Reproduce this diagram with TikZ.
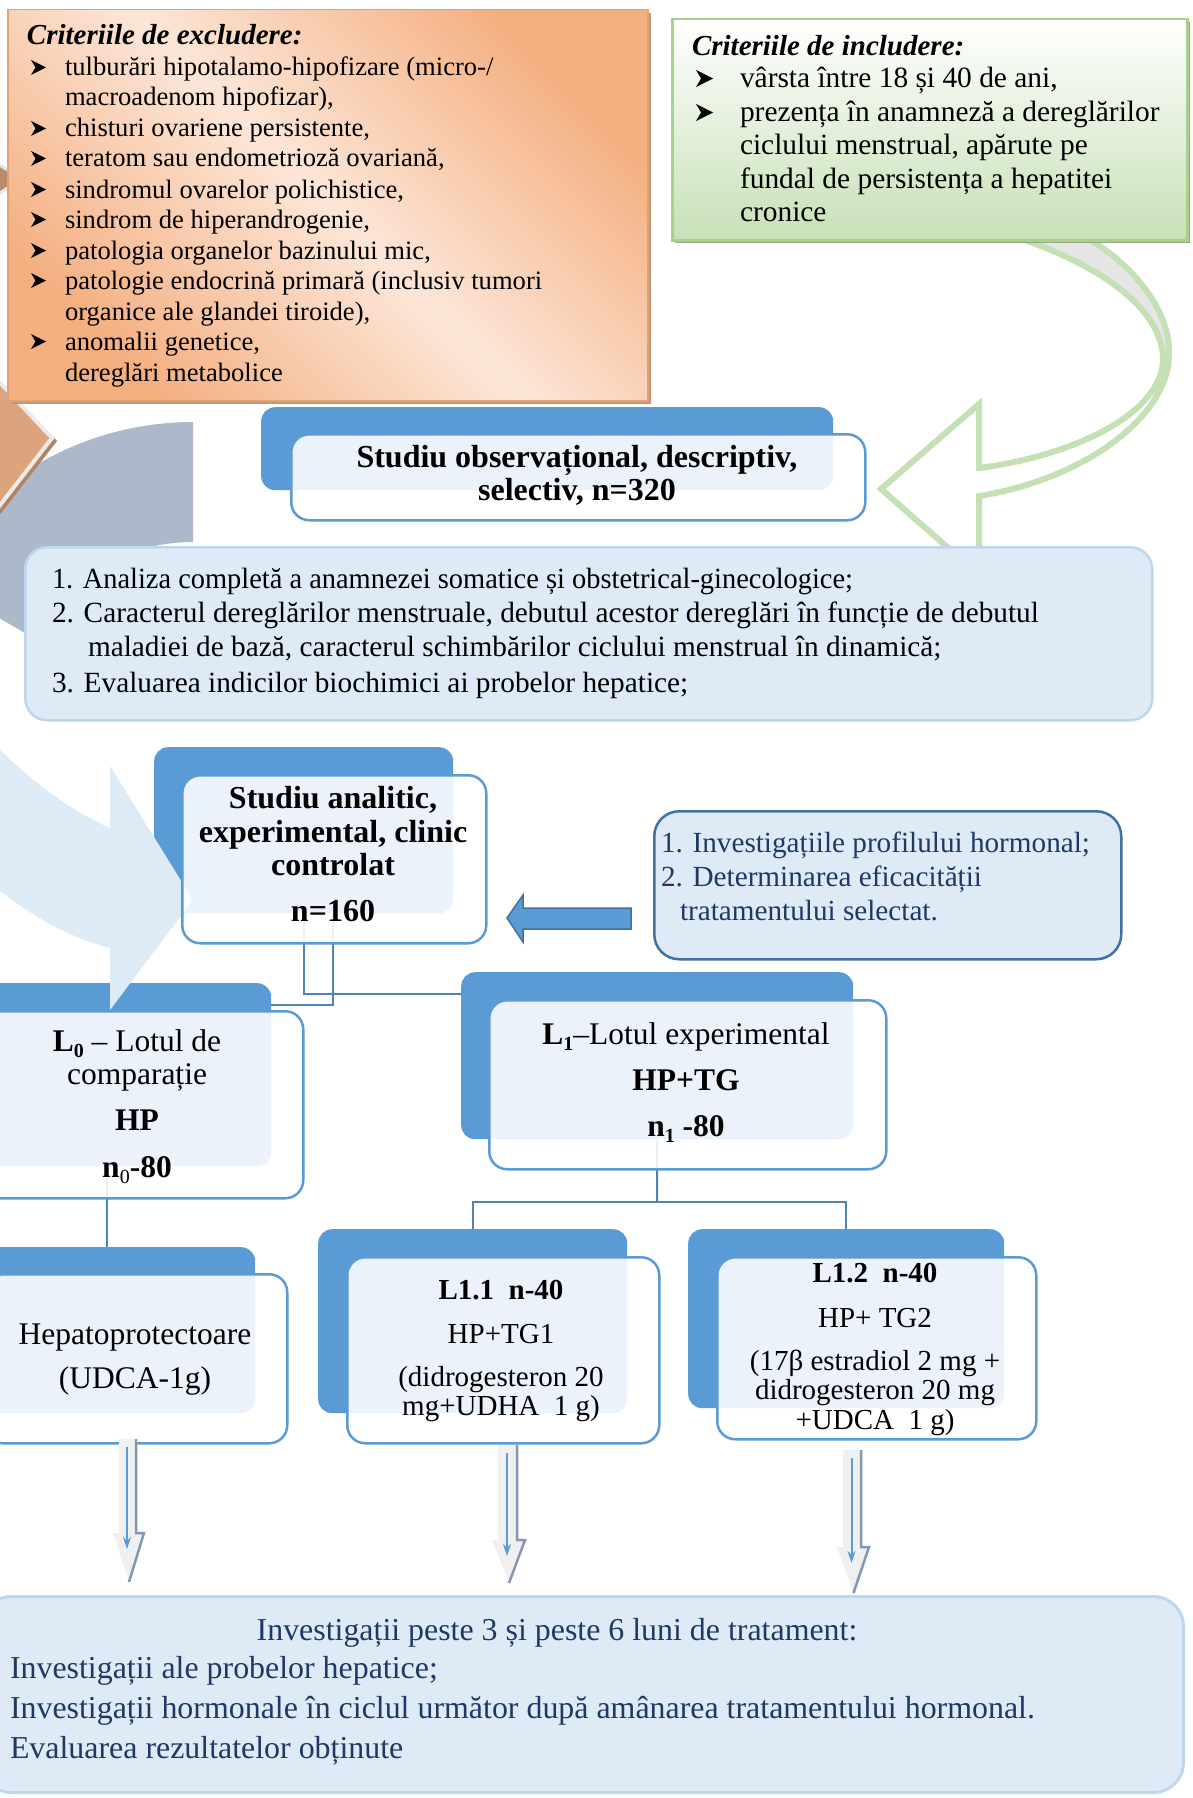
\documentclass[tikz,border=0pt]{standalone}
\usepackage{fontspec}
\setmainfont{Liberation Serif}
\usetikzlibrary{arrows.meta,calc}
\definecolor{dblue}{RGB}{91,155,213}
\definecolor{dblueb}{RGB}{65,113,156}
\definecolor{lblue}{RGB}{222,235,247}
\definecolor{lblueb}{RGB}{189,215,238}
\definecolor{navy}{RGB}{31,56,100}
\definecolor{exdark}{RGB}{244,175,128}
\definecolor{exlight}{RGB}{252,230,216}
\definecolor{exshadow}{RGB}{196,150,118}
\definecolor{ingreen}{RGB}{199,225,182}
\definecolor{inborder}{RGB}{169,209,142}
\definecolor{inshadow}{RGB}{150,170,138}
\definecolor{garrow}{RGB}{197,224,180}
\definecolor{gback}{RGB}{230,230,230}
\definecolor{greyarc}{RGB}{173,185,202}
\definecolor{chev}{RGB}{220,164,124}
\definecolor{chevsh}{RGB}{180,132,98}
\definecolor{decoblue}{RGB}{221,235,247}
\definecolor{arrgrey}{RGB}{240,240,240}
\definecolor{arrdark}{RGB}{132,151,176}
\newcommand\FS[2]{\fontsize{#1}{#2}\selectfont}
\newcommand\subn[1]{\raisebox{-0.22em}{\FS{20}{20}#1}}
% arrowhead bullet: #1 left x, #2 baseline y, #3 width, #4 height
\newcommand\bulat[4]{\fill[black] (#1,{#2-1-#4}) -- ({#1+#3},{#2-1-#4/2}) -- (#1,{#2-1}) -- ({#1+#3*0.3},{#2-1-#4/2}) -- cycle;}
\begin{document}
\begin{tikzpicture}[x=1pt,y=-1pt,
  backbox/.style={fill=dblue, draw=none, rounded corners=14pt, anchor=north west, inner sep=0pt},
  frontbox/.style={fill=white, fill opacity=0.88, draw=dblue, line width=2.5pt, rounded corners=18pt, anchor=north west, inner sep=0pt},
  conn/.style={draw=dblue!85!black, line width=2pt},
  tl/.style={anchor=base west, inner sep=0pt, outer sep=0pt},
  tc/.style={anchor=base, inner sep=0pt, outer sep=0pt},
  gline/.style={draw=garrow, line width=6pt, line join=miter},
]
\useasboundingbox (0,0) rectangle (1192,1798);
\fill[white] (0,0) rectangle (1192,1798);

% ---------- left decorations ----------
\filldraw[fill=chev!85!black, draw=white!90!black, line width=3pt] (-40,140) -- (22,179) -- (-40,218) -- cycle;
\fill[greyarc] plot[domain=210:270,samples=40] ({193+308*cos(\x)},{730+308*sin(\x)})
   -- plot[domain=270:210,samples=40] ({193+188*cos(\x)},{730+188*sin(\x)}) -- cycle;
\fill[chevsh] (-36,344) -- (57,441) -- (-36,561) -- cycle;
\filldraw[fill=chev, draw=white!92!black, line width=4pt, line join=miter] (-40,340) -- (52,438) -- (-40,557) -- cycle;

% ---------- green curved arrow ----------
\fill[gback] (999,232) .. controls (1080,255) and (1160,300) .. (1163,357) -- (1169,357)
   .. controls (1172,310) and (1130,260) .. (1077,232) -- cycle;
\fill[white] (1163,357) .. controls (1165,410) and (1080,455) .. (979,468) -- (979,404) -- (881,489)
   -- (979,575) -- (979,496) .. controls (1080,480) and (1166,420) .. (1169,357) -- cycle;
\draw[gline] (999,232) .. controls (1080,255) and (1160,300) .. (1163,357)
   .. controls (1165,410) and (1080,455) .. (979,468) -- (979,404) -- (881,489)
   -- (979,575) -- (979,496) .. controls (1080,480) and (1166,420) .. (1169,357)
   .. controls (1172,310) and (1130,260) .. (1077,232);

% ---------- exclusion box ----------
\fill[exshadow] (11,13) rectangle (651,404);
\node[anchor=north west, inner sep=0pt, minimum width=640pt, minimum height=391pt,
  top color=exdark, bottom color=exdark, middle color=exlight, shading angle=-45,
  draw=exdark!92!black, line width=1.5pt] (excl) at (7,9) {};
\node[tl] (ex0) at (27,45) {\FS{29}{33}\bfseries\itshape Criteriile de excludere:};
\bulat{31}{76}{15}{15}
\bulat{31}{137}{15}{15}
\bulat{31}{167}{15}{15}
\bulat{31}{198}{15}{15}
\bulat{31}{228}{15}{15}
\bulat{31}{259}{15}{15}
\bulat{31}{289}{15}{15}
\bulat{31}{350}{15}{15}
\node[tl] (ex1) at (65,76) {\FS{26.6}{30}tulburări hipotalamo-hipofizare (micro-/};
\node[tl] (ex2) at (65,106) {\FS{26.6}{30}macroadenom hipofizar),};
\node[tl] (ex3) at (65,137) {\FS{26.6}{30}chisturi ovariene persistente,};
\node[tl] (ex4) at (65,167) {\FS{26.6}{30}teratom sau endometrioză ovariană,};
\node[tl] (ex5) at (65,198) {\FS{26.6}{30}sindromul ovarelor polichistice,};
\node[tl] (ex6) at (65,228) {\FS{26.6}{30}sindrom de hiperandrogenie,};
\node[tl] (ex7) at (65,259) {\FS{26.6}{30}patologia organelor bazinului mic,};
\node[tl] (ex8) at (65,289) {\FS{26.6}{30}patologie endocrină primară (inclusiv tumori};
\node[tl] (ex9) at (65,320) {\FS{26.6}{30}organice ale glandei tiroide),};
\node[tl] (ex10) at (65,350) {\FS{26.6}{30}anomalii genetice,};
\node[tl] (ex11) at (65,381) {\FS{26.6}{30}dereglări metabolice};

% ---------- inclusion box ----------
\fill[inshadow] (675,22) rectangle (1190,243);
\node[anchor=north west, inner sep=0pt, minimum width=515pt, minimum height=221pt,
  top color=white, bottom color=ingreen, draw=inborder, line width=2.5pt] (incl) at (671,18) {};
\node[tl] (in0) at (692,56) {\FS{29}{33}\bfseries\itshape Criteriile de includere:};
\bulat{696}{88}{17}{17}
\bulat{696}{122}{17}{17}
\node[tl] (in1) at (740,88) {\FS{29.4}{33}vârsta între 18 și 40 de ani,};
\node[tl] (in2) at (740,122) {\FS{29.4}{33}prezența în anamneză a dereglărilor};
\node[tl] (in3) at (740,155) {\FS{29.4}{33}ciclului menstrual, apărute pe};
\node[tl] (in4) at (740,189) {\FS{29.4}{33}fundal de persistența a hepatitei};
\node[tl] (in5) at (740,222) {\FS{29.4}{33}cronice};

% ---------- observational box ----------
\node[backbox, minimum width=572pt, minimum height=83pt] (oB) at (261,407) {};
\node[frontbox, minimum width=574pt, minimum height=86pt] (oF) at (290,433) {};
\node[tc] (o1) at (577,467) {\FS{32}{34}\bfseries Studiu observațional, descriptiv,};
\node[tc] (o2) at (577,500) {\FS{32}{34}\bfseries selectiv, n=320};

% ---------- numbered list box ----------
\node[anchor=north west, inner sep=0pt, minimum width=1127pt, minimum height=173pt,
  fill=lblue, draw=lblueb, line width=2.5pt, rounded corners=22pt] (nl) at (24,546) {};
\node[tl] (nl1) at (52,588) {\FS{29.3}{34}\scalebox{0.97}[1]{1. Analiza completă a anamnezei somatice și obstetrical-ginecologice;}};
\node[tl] (nl2) at (52,622) {\FS{29.3}{34}2. Caracterul dereglărilor menstruale, debutul acestor dereglări în funcție de debutul};
\node[tl] (nl3) at (88,656) {\FS{29.3}{34}maladiei de bază, caracterul schimbărilor ciclului menstrual în dinamică;};
\node[tl] (nl4) at (52,692) {\FS{29.3}{34}3. Evaluarea indicilor biochimici ai probelor hepatice;};

% ---------- back boxes ----------
\node[backbox, minimum width=299pt, minimum height=166pt] (aB) at (154,747) {};
\node[backbox, minimum width=328pt, minimum height=183pt] (L0B) at (-57,983) {};
\node[backbox, minimum width=392pt, minimum height=167pt] (L1B) at (461,972) {};
\node[backbox, minimum width=299pt, minimum height=166pt] (HB) at (-44,1247) {};
\node[backbox, minimum width=309pt, minimum height=184pt] (L11B) at (318,1229) {};
\node[backbox, minimum width=316pt, minimum height=179pt] (L12B) at (688,1229) {};

% ---------- decorative light-blue arrow ----------
\fill[decoblue] (-5,745) .. controls (40,790) and (80,815) .. (110,828) -- (110,766) -- (193,900)
  -- (110,1010) -- (110,948) .. controls (70,938) and (30,915) .. (-5,887) -- cycle;

% ---------- connectors ----------
\draw[conn] (333,913) -- (333,1005) -- ($(L0B.north east)+(0,22)$);
\draw[conn] (aB.south) |- ($(L1B.north west)+(0,22)$);
\draw[conn] (L0B.south) -- (L0B.south |- HB.north);
\coordinate (jn) at (657,1202);
\draw[conn] (L1B.south) -- (jn);
\draw[conn] (L11B.north) |- (jn) -| (L12B.north);

% ---------- front boxes ----------
\node[frontbox, minimum width=304pt, minimum height=168pt] (aF) at (181,774) {};
\node[frontbox, minimum width=331pt, minimum height=187pt] (L0F) at (-29,1010) {};
\node[frontbox, minimum width=397pt, minimum height=169pt] (L1F) at (488,999) {};
\node[frontbox, minimum width=302pt, minimum height=169pt] (HF) at (-16,1273) {};
\node[frontbox, minimum width=312pt, minimum height=186pt] (L11F) at (346,1256) {};
\node[frontbox, minimum width=319pt, minimum height=182pt] (L12F) at (716,1256) {};

% analitic texts
\node[tc] (a1) at (333,808) {\FS{32}{34}\bfseries Studiu analitic,};
\node[tc] (a2) at (333,842) {\FS{32}{34}\bfseries experimental, clinic};
\node[tc] (a3) at (333,875) {\FS{32}{34}\bfseries controlat};
\node[tc] (a4) at (333,921) {\FS{32}{34}\bfseries n=160};
% L0 texts
\node[tc] (l01) at (137,1051) {\FS{31.5}{34}\textbf{L\subn{0}} – Lotul de};
\node[tc] (l02) at (137,1084) {\FS{31.5}{34}comparație};
\node[tc] (l03) at (137,1130) {\FS{31.5}{34}\bfseries HP};
\node[tc] (l04) at (137,1177) {\FS{31.5}{34}\textbf{n}\subn{0}\textbf{-80}};
% L1 texts
\node[tc] (l11) at (686,1044) {\FS{31.5}{34}\textbf{L\subn{1}}–Lotul experimental};
\node[tc] (l12) at (686,1090) {\FS{31.5}{34}\bfseries HP+TG};
\node[tc] (l13) at (686,1136) {\FS{31.5}{34}\bfseries n\subn{1} -80};
% Hep texts
\node[tc] (h1) at (135,1344) {\FS{31.5}{34}Hepatoprotectoare};
\node[tc] (h2) at (135,1388) {\FS{31.5}{34}(UDCA-1g)};
% L1.1 texts
\node[tc] (p1) at (501,1299) {\FS{29}{32}\bfseries L1.1\ \ n-40};
\node[tc] (p2) at (501,1343) {\FS{29}{32}HP+TG1};
\node[tc] (p3) at (501,1386) {\FS{29}{32}(didrogesteron 20};
\node[tc] (p4) at (501,1415) {\FS{29}{32}mg+UDHA\ \ 1 g)};
% L1.2 texts
\node[tc] (q1) at (875,1282) {\FS{29}{32}\bfseries L1.2\ \ n-40};
\node[tc] (q2) at (875,1327) {\FS{29}{32}HP+ TG2};
\node[tc] (q3) at (875,1370) {\FS{29}{32}(17β estradiol 2 mg +};
\node[tc] (q4) at (875,1399) {\FS{29}{32}didrogesteron 20 mg};
\node[tc] (q5) at (875,1429) {\FS{29}{32}+UDCA\ \ 1 g)};

% ---------- info box and blue arrow ----------
\node[anchor=north west, inner sep=0pt, minimum width=467pt, minimum height=148pt,
  fill=lblue, draw=dblueb, line width=2.5pt, rounded corners=25pt] (info) at (653,810) {};
\node[tl, text=navy] (i1) at (661,852) {\FS{29.2}{34}1. Investigațiile profilului hormonal;};
\node[tl, text=navy] (i2) at (661,886) {\FS{29.2}{34}2. Determinarea eficacității};
\node[tl, text=navy] (i3) at (680,920) {\FS{29.2}{34}tratamentului selectat.};
\filldraw[fill=dblue, draw=dblueb, line width=1.5pt, line join=miter]
  (507,918) -- (523,895) -- (523,908) -- (631,908) -- (631,929) -- (523,929) -- (523,942) -- cycle;

% ---------- down arrows ----------
\newcommand\darr[6]{%
  \fill[arrgrey] (#1,#3) -- (#2,#3) -- (#2,#4) -- ({#2+8},#4) -- ({(#1+#2)/2+1},#5) -- ({#1-6},#4) -- (#1,#4) -- cycle;
  \draw[arrdark, line width=2.5pt] ({#2-1},#3) -- ({#2-1},#4) -- ({#2+7},#4) -- ({(#1+#2)/2+1},#5);
  \draw[dblue, line width=2pt, -{Stealth[length=12pt,width=8pt]}] ({(#1+#2)/2-1},{#3+8}) -- ({(#1+#2)/2-1},#6);}
\darr{119}{137}{1439}{1533}{1582}{1549}
\darr{498}{518}{1445}{1540}{1583}{1556}
\darr{843}{862}{1450}{1547}{1593}{1563}

% ---------- bottom box ----------
\node[anchor=north west, inner sep=0pt, minimum width=1202pt, minimum height=196pt,
  fill=lblue, draw=lblueb, line width=3pt, rounded corners=30pt] (bot) at (-20,1595) {};
\node[tc, text=navy] (b0) at (557,1640) {\FS{31.9}{40}Investigații peste 3 și peste 6 luni de tratament:};
\node[tl, text=navy] (b1) at (10,1678) {\FS{31.9}{40}Investigații ale probelor hepatice;};
\node[tl, text=navy] (b2) at (10,1718) {\FS{31.9}{40}Investigații hormonale în ciclul următor după amânarea tratamentului hormonal.};
\node[tl, text=navy] (b3) at (10,1758) {\FS{31.9}{40}Evaluarea rezultatelor obținute};
\end{tikzpicture}
\end{document}
